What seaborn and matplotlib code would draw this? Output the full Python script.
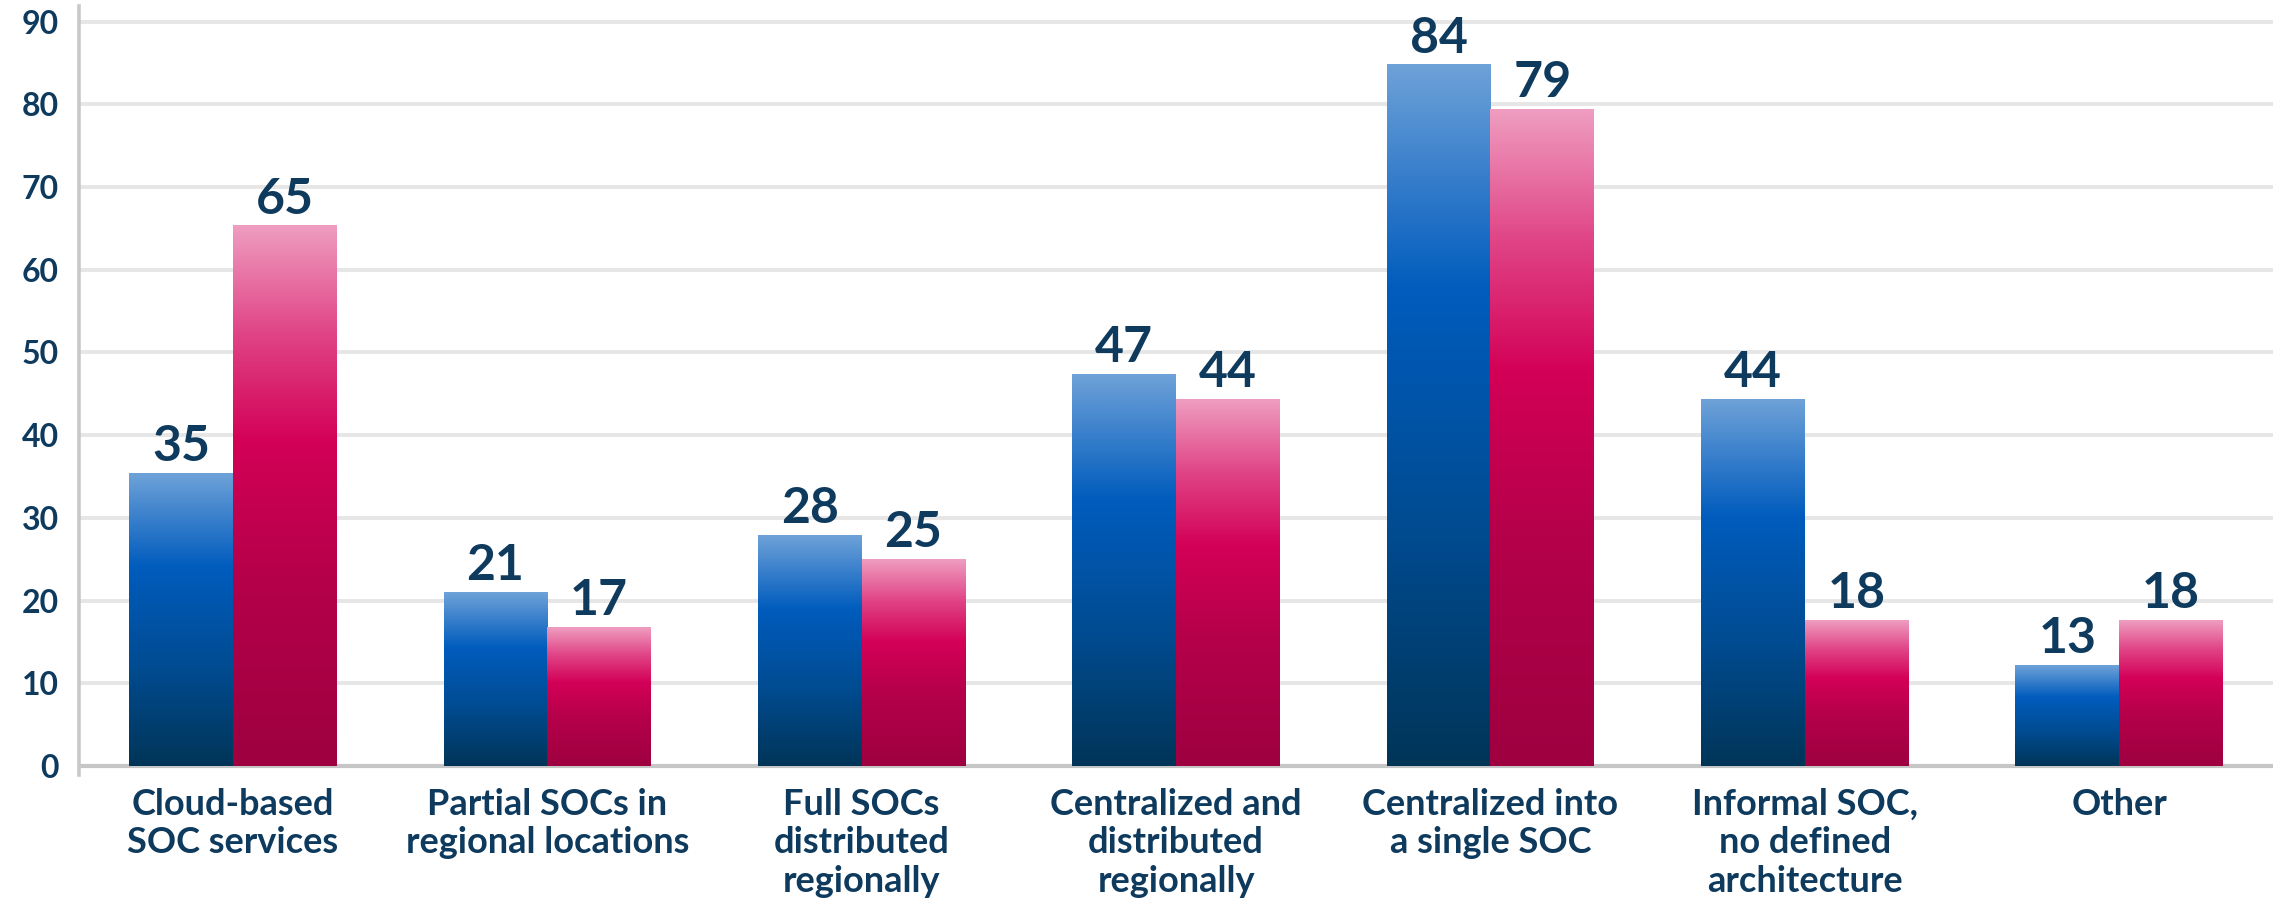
import matplotlib
matplotlib.use("Agg")
import matplotlib.pyplot as plt
import seaborn as sns
import pandas as pd
import numpy as np
from matplotlib.colors import LinearSegmentedColormap

# data
categories = ["Cloud-based\nSOC services", "Partial SOCs in\nregional locations",
              "Full SOCs\ndistributed\nregionally", "Centralized and\ndistributed\nregionally",
              "Centralized into\na single SOC", "Informal SOC,\nno defined\narchitecture", "Other"]
series = ["Series 1", "Series 2"]
blue_vals = [35.4, 21.0, 27.9, 47.4, 84.8, 44.3, 12.2]
pink_vals = [65.3, 16.8, 25.0, 44.3, 79.4, 17.6, 17.6]
blue_labels = ["35", "21", "28", "47", "84", "44", "13"]
pink_labels = ["65", "17", "25", "44", "79", "18", "18"]
y_ticks = [0, 10, 20, 30, 40, 50, 60, 70, 80, 90]

navy = "#0e3a5e"
grid_col = "#e6e6e6"

blue_cmap = LinearSegmentedColormap.from_list("blue", [
    (0.0, "#003558"), (0.35, "#004c93"), (0.68, "#005cbd"), (0.85, "#3a80cc"), (1.0, "#6ea2d8")])
pink_cmap = LinearSegmentedColormap.from_list("pink", [
    (0.0, "#9e0040"), (0.35, "#b5004a"), (0.6, "#d30057"), (0.8, "#e04486"), (1.0, "#ef9dc0")])

df = pd.DataFrame({
    "category": categories * 2,
    "value": blue_vals + pink_vals,
    "series": [series[0]] * len(categories) + [series[1]] * len(categories),
})

sns.set_style("white")
plt.rcParams["font.family"] = ["Lato", "DejaVu Sans"]

fig = plt.figure(figsize=(22.8, 9.05), dpi=100)
ax = fig.add_axes([0.0346, 0.1436, 0.9624, 0.8498])

sns.barplot(data=df, x="category", y="value", hue="series", palette=["#005cbd", "#d30057"],
            width=0.66, saturation=1, legend=False, ax=ax, zorder=2)

# gradient fill for each bar
grad = np.linspace(0, 1, 256).reshape(-1, 1)
for cont, cmap, labels in zip(ax.containers, [blue_cmap, pink_cmap], [blue_labels, pink_labels]):
    for bar in cont:
        x0, w, h = bar.get_x(), bar.get_width(), bar.get_height()
        ax.imshow(grad, cmap=cmap, origin="lower", extent=[x0, x0 + w, 0, h],
                  aspect="auto", interpolation="bicubic", zorder=2)
        bar.set_facecolor("none")
        bar.set_edgecolor("none")
    ax.bar_label(cont, labels=labels, padding=3, fontsize=36, fontweight="bold", color=navy)

ax.set_xlim(-0.49, 6.49)
ax.set_ylim(-1.1, 91.9)
ax.set_yticks(y_ticks)
ax.yaxis.grid(True, color=grid_col, linewidth=2.8, zorder=0)
ax.xaxis.grid(False)
ax.set_axisbelow(True)
ax.axhline(0, color="#c6c6c6", linewidth=3, zorder=1)

for s in ["top", "right", "bottom"]:
    ax.spines[s].set_visible(False)
ax.spines["left"].set_color("#c9c9c9")
ax.spines["left"].set_linewidth(2.6)

ax.tick_params(axis="y", length=6.5, width=2.8, color=grid_col, pad=8,
               labelsize=23, labelcolor=navy)
ax.tick_params(axis="x", length=0, pad=9, labelsize=26, labelcolor=navy)
for t in ax.get_yticklabels():
    t.set_fontweight("bold")
for t in ax.get_xticklabels():
    t.set_fontweight("bold")
    t.set_linespacing(1.22)
    t.set_verticalalignment("top")

ax.set_xlabel("")
ax.set_ylabel("")

fig.savefig("out.png", dpi=100)
